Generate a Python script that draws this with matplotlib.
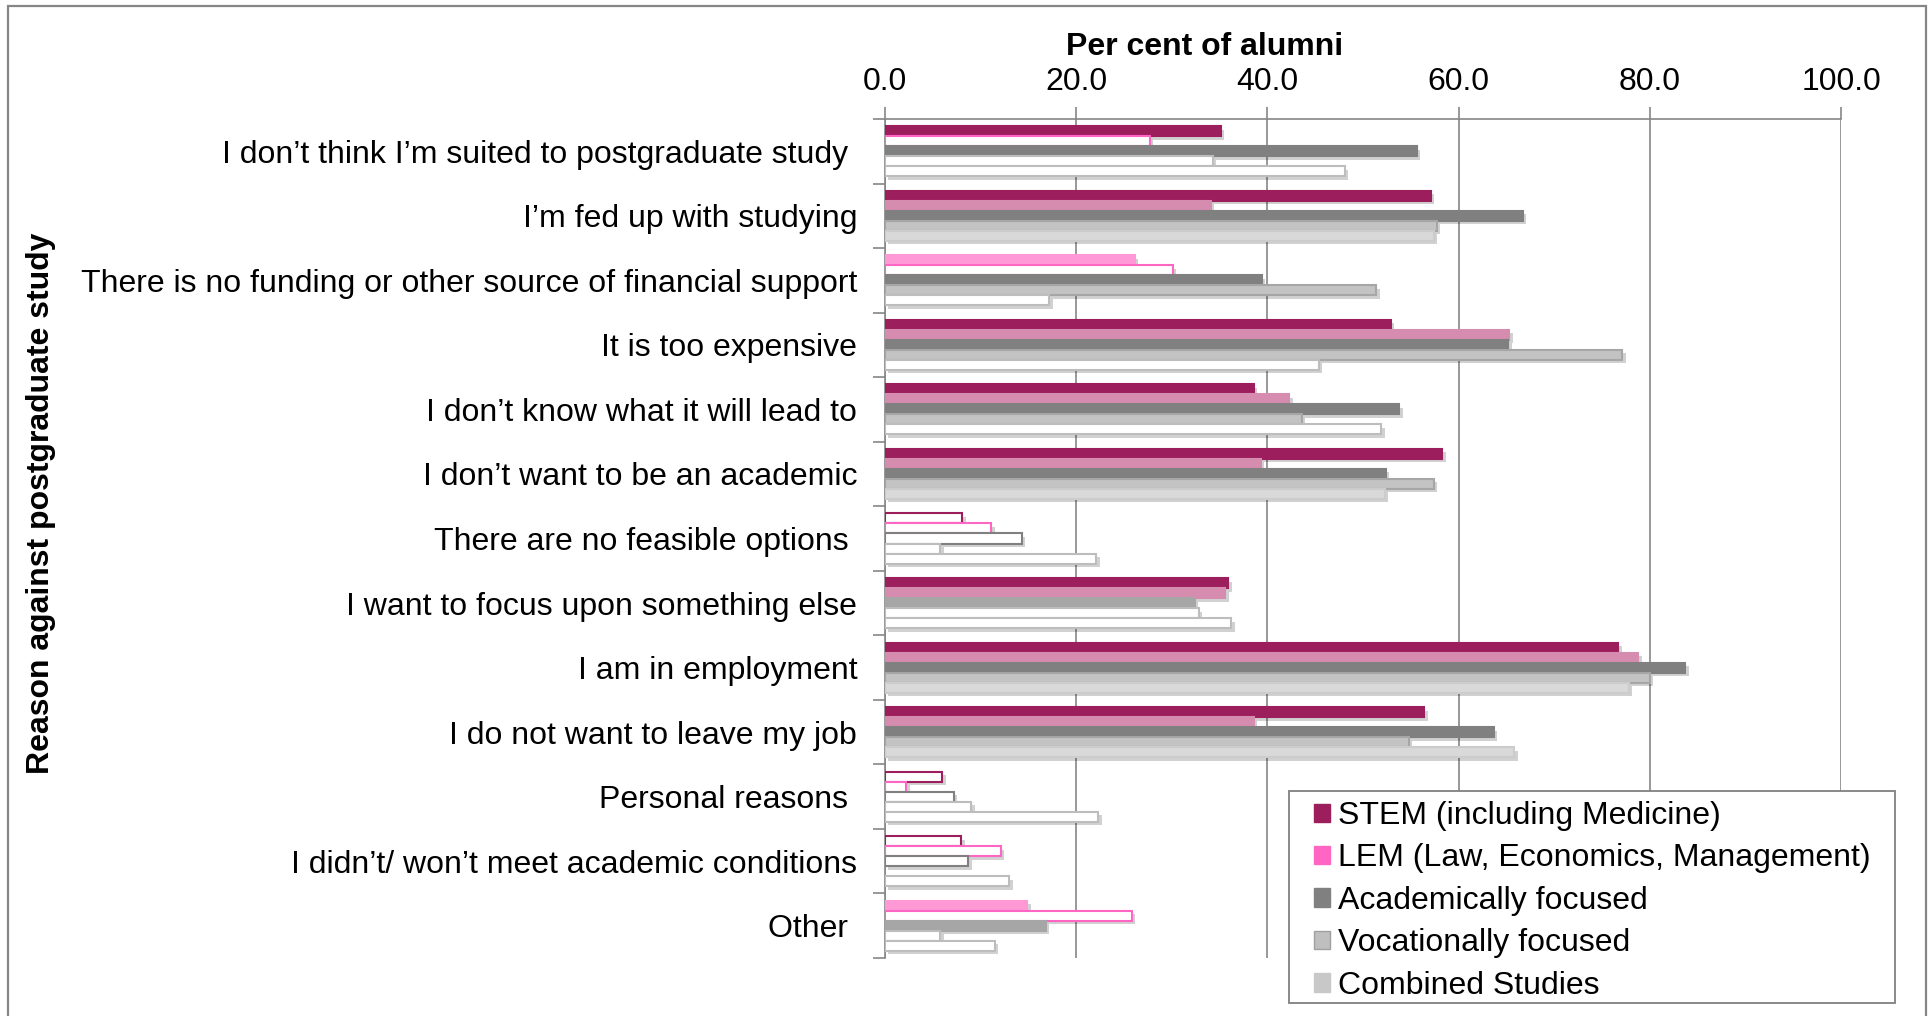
import numpy as np
import matplotlib
matplotlib.use("Agg")
import matplotlib.pyplot as plt
from matplotlib.patches import Patch, Rectangle
import matplotlib.patheffects as pe

plt.rcParams['font.family'] = ['Liberation Sans', 'DejaVu Sans']

categories = [
    "I don\u2019t think I\u2019m suited to postgraduate study ",
    "I\u2019m fed up with studying",
    "There is no funding or other source of financial support",
    "It is too expensive",
    "I don\u2019t know what it will lead to",
    "I don\u2019t want to be an academic",
    "There are no feasible options ",
    "I want to focus upon something else",
    "I am in employment",
    "I do not want to leave my job",
    "Personal reasons ",
    "I didn\u2019t/ won\u2019t meet academic conditions",
    "Other ",
]
series_names = ["STEM (including Medicine)", "LEM (Law, Economics, Management)",
                "Academically focused", "Vocationally focused", "Combined Studies"]

stem = [35.1, 57.1, 26.1, 52.9, 38.6, 58.3, 8.1, 35.9, 76.7, 56.4, 6.0, 8.0, 14.9]
lem  = [27.7, 34.1, 30.1, 65.3, 42.3, 39.3, 11.1, 35.6, 78.8, 38.6, 2.2, 12.1, 25.8]
acad = [55.6, 66.7, 39.4, 65.2, 53.8, 52.4, 14.3, 32.4, 83.7, 63.7, 7.2, 8.7, 16.8]
voc  = [34.3, 57.7, 51.4, 77.1, 43.6, 57.4, 5.8, 32.8, 80.0, 54.8, 9.0, np.nan, 5.8]
comb = [48.1, 57.4, 17.2, 45.4, 51.9, 52.3, 22.1, 36.2, 77.8, 65.8, 22.3, 13.0, 11.5]

xticks = [0, 20, 40, 60, 80, 100]

# per-bar formatting: f = filled, a = alternate fill, o = outlined (white)
stem_style = ['f', 'f', 'a', 'f', 'f', 'f', 'o', 'f', 'f', 'f', 'o', 'o', 'a']
lem_style  = ['o', 'f', 'o', 'f', 'f', 'f', 'o', 'f', 'f', 'f', 'o', 'o', 'o']
acad_style = ['f', 'f', 'f', 'f', 'f', 'f', 'o', 'a', 'f', 'f', 'o', 'o', 'a']
voc_style  = ['o', 'f', 'f', 'f', 'f', 'f', 'o', 'o', 'f', 'f', 'o', 'o', 'o']
comb_style = ['o', 'f', 'o', 'o', 'o', 'f', 'o', 'o', 'f', 'f', 'o', 'o', 'o']

# (fill, alt fill, fill edge, outline edge)
palette = [
    ('#9C1E5C', '#FF99D6', '#9C1E5C', '#9C1E5C'),
    ('#D68CAE', '#FF99D6', '#D68CAE', '#FF66C4'),
    ('#808080', '#A6A6A6', '#808080', '#808080'),
    ('#C3C3C3', '#C3C3C3', '#A6A6A6', '#BDBDBD'),
    ('#D9D9D9', '#D9D9D9', '#CCCCCC', '#BDBDBD'),
]
legend_colors = ['#9C1E5C', '#FF66C4', '#808080', '#BFBFBF', '#C8C8C8']
legend_edges = ['#9C1E5C', '#FF66C4', '#808080', '#A0A0A0', '#C8C8C8']

all_vals = [stem, lem, acad, voc, comb]
all_styles = [stem_style, lem_style, acad_style, voc_style, comb_style]

W, H = 1928, 1016
fig = plt.figure(figsize=(W / 100, H / 100), dpi=100)
ax = fig.add_axes([885 / W, 1 - 958 / H, (1841 - 885) / W, (958 - 119) / H])

n = len(categories)
y = np.arange(n)
h = 0.155
shadow = [pe.SimplePatchShadow(offset=(2.5, -2.5), shadow_rgbFace='#000000', alpha=0.18), pe.Normal()]

for k, (vals, styles) in enumerate(zip(all_vals, all_styles)):
    fill, alt, fedge, oedge = palette[k]
    fcs, ecs = [], []
    for s in styles:
        if s == 'f':
            fcs.append(fill); ecs.append(fedge)
        elif s == 'a':
            fcs.append(alt); ecs.append(alt)
        else:
            fcs.append('white'); ecs.append(oedge)
    offs = y + (k - 2) * h
    bars = ax.barh(offs, np.nan_to_num(np.array(vals, dtype=float), nan=0.0), height=h,
                   color=fcs, edgecolor=ecs, linewidth=1.5, zorder=3)
    for b, v in zip(bars, vals):
        if np.isnan(v):
            b.set_visible(False)
        else:
            b.set_path_effects(shadow)

ax.set_xlim(0, 100)
ax.set_ylim(n - 0.5, -0.5)
ax.set_xticks(xticks)
ax.set_xticklabels([f"{v:.1f}" for v in xticks], fontsize=23)
ax.xaxis.tick_top()
ax.tick_params(axis='x', which='major', length=9, width=1.2, color='#868686', pad=7)
ax.grid(axis='x', color='#868686', linewidth=1.2, zorder=0)

ax.set_yticks(y)
ax.set_yticklabels(categories, fontsize=23)
ax.set_yticks(np.arange(-0.5, n, 1.0), minor=True)
ax.tick_params(axis='y', which='major', length=0, pad=20)
ax.tick_params(axis='y', which='minor', length=9, width=1.2, color='#868686')

for side in ['right', 'bottom']:
    ax.spines[side].set_visible(False)
for side in ['left', 'top']:
    ax.spines[side].set_color('#868686')
    ax.spines[side].set_linewidth(1.2)

fig.text(1205 / W, 1 - 47 / H, "Per cent of alumni", ha='center', va='center',
         fontsize=23, fontweight='bold')
fig.text(41 / W, 1 - 503 / H, "Reason against postgraduate study", ha='center', va='center',
         rotation=90, fontsize=23, fontweight='bold')

# legend (frame drawn separately)
handles = [Patch(facecolor=c, edgecolor=e, linewidth=1.0) for c, e in zip(legend_colors, legend_edges)]
leg = fig.legend(handles, series_names, loc='upper left',
                 bbox_to_anchor=(1314 / W, 1 - 801 / H), borderaxespad=0, borderpad=0,
                 fontsize=23, frameon=False,
                 handlelength=0.5, handleheight=0.5, handletextpad=0.25,
                 labelspacing=0.39)
fig.patches.append(Rectangle((1289 / W, 1 - 1003 / H), (1895 - 1289) / W, (1003 - 791) / H,
                             transform=fig.transFigure, facecolor='white',
                             edgecolor='#808080', linewidth=1.3, zorder=5))
leg.set_zorder(6)

fig.patches.append(Rectangle((8 / W, -0.05), (1926 - 8) / W, 1.05 - 6 / H,
                             transform=fig.transFigure, fill=False,
                             edgecolor='#868686', linewidth=1.6))

fig.savefig("out.png", dpi=100)
